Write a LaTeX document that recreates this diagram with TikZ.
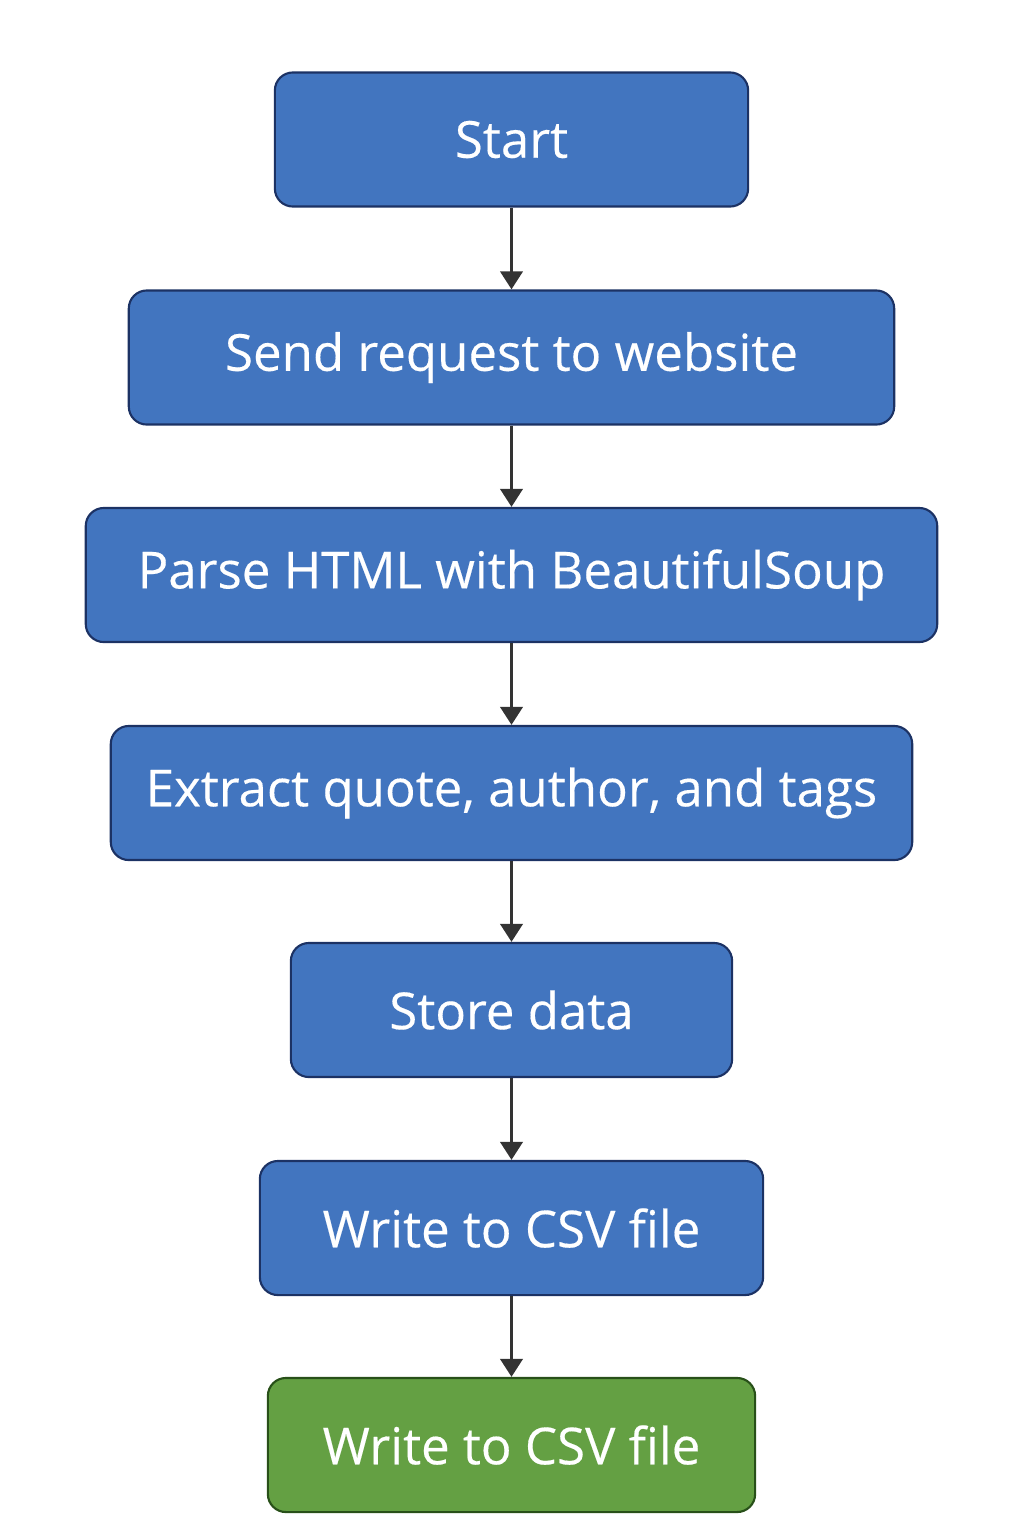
\documentclass[tikz,border=0pt]{standalone}
\usepackage{fontspec}
\setmainfont{Open Sans}
\newfontfamily\boxfont{Open Sans}[FakeBold=0.3]
\usetikzlibrary{arrows.meta}
\definecolor{boxblue}{RGB}{66,117,191}
\definecolor{lineblue}{RGB}{28,50,100}
\definecolor{boxgreen}{RGB}{100,160,67}
\definecolor{linegreen}{RGB}{40,80,25}
\definecolor{arrowgray}{RGB}{51,51,51}
\begin{document}
\begin{tikzpicture}[x=0.01cm,y=-0.01cm,
  stepbox/.style={rectangle, rounded corners=1.8mm, fill=boxblue, draw=lineblue,
    line width=0.6pt, text=white, minimum height=1.34cm, inner sep=0pt,
    font=\boxfont\fontsize{14.5}{17}\selectfont},
  endbox/.style={stepbox, fill=boxgreen, draw=linegreen},
  flow/.style={-{Triangle[length=1.8mm,width=2.2mm]}, draw=arrowgray, fill=arrowgray,
    line width=1.1pt}]
\useasboundingbox (0,0) rectangle (1024,1536);
\node [stepbox, minimum width=4.73cm] (start) at (511.5,139.5) {Start};
\node [stepbox, minimum width=7.65cm] (request) at (511.5,357.5) {Send request to website};
\node [stepbox, minimum width=8.51cm] (parse) at (511.5,575) {Parse HTML with BeautifulSoup};
\node [stepbox, minimum width=8.01cm] (extract) at (511.5,793) {Extract quote, author, and tags};
\node [stepbox, minimum width=4.41cm] (store) at (511.5,1010) {Store data};
\node [stepbox, minimum width=5.03cm] (write) at (511.5,1228) {Write to CSV file};
\node [endbox, minimum width=4.87cm] (done) at (511.5,1445) {Write to CSV file};
\draw [flow] (start) -- (request);
\draw [flow] (request) -- (parse);
\draw [flow] (parse) -- (extract);
\draw [flow] (extract) -- (store);
\draw [flow] (store) -- (write);
\draw [flow] (write) -- (done);
\end{tikzpicture}
\end{document}
